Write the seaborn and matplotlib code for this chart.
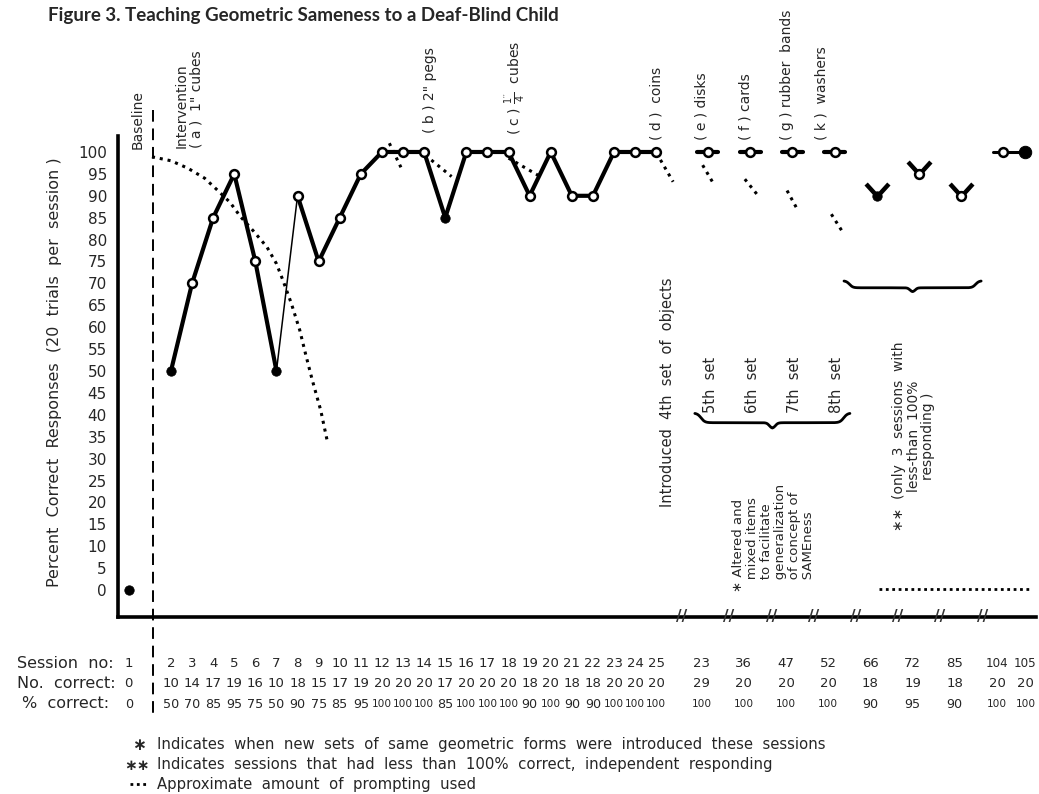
import numpy as np
import pandas as pd
import matplotlib.pyplot as plt
import seaborn as sns
from matplotlib.path import Path
from matplotlib.lines import Line2D

# Session data as printed in the table under the graph
sessions = [1, 2, 3, 4, 5, 6, 7, 8, 9, 10, 11, 12, 13, 14, 15, 16, 17, 18, 19, 20,
            21, 22, 23, 24, 25, 29, 36, 47, 52, 66, 72, 85, 104, 105]
session_labels = ['1', '2', '3', '4', '5', '6', '7', '8', '9', '10', '11', '12', '13',
                  '14', '15', '16', '17', '18', '19', '20', '21', '22', '23', '24', '25',
                  '23', '36', '47', '52', '66', '72', '85', '104', '105']
n_correct = [0, 10, 14, 17, 19, 16, 10, 18, 15, 17, 19, 20, 20, 20, 17, 20, 20, 20, 18, 20,
             18, 18, 20, 20, 20, 29, 20, 20, 20, 18, 19, 18, 20, 20]
pct_correct = [0, 50, 70, 85, 95, 75, 50, 90, 75, 85, 95, 100, 100, 100, 85, 100, 100, 100,
               90, 100, 90, 90, 100, 100, 100, 100, 100, 100, 100, 90, 95, 90, 100, 100]

filled_sessions = [1, 2, 7, 15, 66, 105]
new_set_sessions = [29, 36, 47, 52]
below_100_sessions = [66, 72, 85]
final_sessions = [104, 105]

# approximate prompting (dotted), x in session slots
prompt_x = [1.1, 2.0, 2.8, 3.6, 4.2, 4.8, 5.3, 5.9, 6.55, 7.0, 7.3, 7.7, 8.1, 8.4, 8.7, 9.1, 9.4]
prompt_y = [98.9, 98.0, 96.3, 94.0, 91.3, 88.5, 85.2, 82.0, 78.3, 74.5, 70.8, 65.5, 59.4,
            53.5, 47.9, 41.0, 34.2]
fade_x0 = [12.35, 14.05, 18.0, 25.2, 27.2, 29.2, 31.2, 33.3]
fade_y0 = [102.0, 99.3, 98.6, 98.2, 97.0, 93.8, 91.2, 85.8]
fade_x1 = [12.9, 15.3, 19.5, 25.8, 27.7, 29.8, 31.7, 33.8]
fade_y1 = [96.5, 94.4, 94.4, 93.2, 92.9, 90.2, 86.8, 82.0]

# slot positions: baseline, sessions 2-25 one slot apart, later sessions after axis breaks
pos = []
for i, s in enumerate(sessions):
    if s == 1:
        p = 0.0
    elif s <= 25:
        p = float(s)
    elif sessions[i - 1] == s - 1:
        p = pos[-1] + 1.05
    else:
        p = pos[-1] + (2.45 if sessions[i - 1] <= 25 else 2.0)
    pos.append(p)

df = pd.DataFrame({'session': sessions, 'pos': pos, 'pct': pct_correct,
                   'label': session_labels, 'n': n_correct})
df['filled'] = df['session'].isin(filled_sessions)
P = dict(zip(df['session'], df['pos']))

sns.set_style('white')
plt.rcParams['font.family'] = ['DejaVu Sans']

fig = plt.figure(figsize=(10.39, 7.94), dpi=100)
ax = fig.add_axes([118 / 1039, 1 - 617 / 794, (1036 - 118) / 1039, (617 - 30) / 794])
ax.set_xlim(-0.51, 43.0)
ax.set_ylim(-6.16, 127.85)

# main learning curve
main = df[(df['session'] >= 2) & (df['session'] <= 25)].copy()
main['seg'] = np.where(main['session'] <= 7, 0, 1)
sns.lineplot(data=main, x='pos', y='pct', units='seg', estimator=None, sort=False,
             color='black', lw=3, ax=ax, zorder=3)
ax.plot([P[7], P[8]], [pct_correct[6], pct_correct[7]], color='black', lw=1.1, zorder=3)

# new-set sessions: dot with short bar
for s in new_set_sessions:
    y = df.loc[df['session'] == s, 'pct'].iloc[0]
    ax.plot([P[s] - 0.5, P[s] + 0.5], [y, y], color='black', lw=3, zorder=3,
            solid_capstyle='round')

# sessions below 100%: V marks
vmark = Path([(-1, 1.1), (0, 0), (1, 1.1)], [Path.MOVETO, Path.LINETO, Path.LINETO])
vdf = df[df['session'].isin(below_100_sessions)]
ax.plot(vdf['pos'], vdf['pct'], ls='none', marker=vmark, ms=18, mew=3.2,
        mfc='none', mec='black', zorder=3)

# final two sessions
fdf = df[df['session'].isin(final_sessions)]
sns.lineplot(data=fdf, x='pos', y='pct', estimator=None, color='black', lw=2.2, ax=ax,
             zorder=3)
ax.plot([P[104] - 0.5, P[104]], [100, 100], color='black', lw=2.2, zorder=3)

# markers
open_pts = df[~df['filled']]
full_pts = df[df['filled'] & (df['session'] != 105)]
sns.scatterplot(data=open_pts, x='pos', y='pct', s=40, color='white', edgecolor='black',
                linewidth=1.8, ax=ax, zorder=5)
sns.scatterplot(data=full_pts, x='pos', y='pct', s=46, color='black', edgecolor='black',
                ax=ax, zorder=5)
sns.scatterplot(data=df[df['session'] == 105], x='pos', y='pct', s=80, color='black',
                edgecolor='black', ax=ax, zorder=5)

# prompting
ax.plot(prompt_x, prompt_y, color='black', ls=(0, (1, 1.6)), lw=2.2, zorder=2)
for x0, y0, x1, y1 in zip(fade_x0, fade_y0, fade_x1, fade_y1):
    ax.plot([x0, x1], [y0, y1], color='black', ls=(0, (1, 1.6)), lw=2.2, zorder=2)
ax.plot([P[66] + 0.1, 42.8], [0.3, 0.3], color='black', ls=(0, (1, 1.3)), lw=2, zorder=2)

# phase line
ax.plot([1.13, 1.13], [109.6, -28.5], color='black', ls=(0, (6, 3.5)), lw=1.4,
        clip_on=False)

# axes
sns.despine(ax=ax)
ax.spines['left'].set_bounds(-6.16, 103.7)
for side in ['left', 'bottom']:
    ax.spines[side].set_linewidth(2.6)
    ax.spines[side].set_color('black')
ax.set_xticks([])
ax.set_yticks(range(0, 101, 5))
ax.tick_params(axis='y', length=0, pad=8, labelsize=11)
ax.set_xlabel('')
ax.set_ylabel('')

# axis breaks
late = [p for s, p in zip(sessions, pos) if s > 24]
for a, b in zip(late[:-2], late[1:-1]):
    ax.text((a + b) / 2, -6.16, '//', ha='center', va='center', fontsize=11,
            fontweight='bold', color='#333333')

# annotations
rot = dict(rotation=90, ha='center', va='bottom', fontsize=10)
ax.text(0.4, 100.6, 'Baseline', **rot)
ax.text(2.85, 100.9, 'Intervention\n( a )  1" cubes', multialignment='left',
        linespacing=1.1, **rot)
ax.text(14.3, 104.3, '( b ) 2" pegs', **rot)
ax.text(18.3, 103.8, r'( c ) $\mathregular{\frac{1^{\prime\prime}}{4}}$  cubes', **rot)
ax.text(25.03, 102.8, '( d )  coins', **rot)
ax.text(P[29] - 0.3, 102.8, '( e ) disks', **rot)
ax.text(P[36] - 0.2, 102.8, '( f ) cards', **rot)
ax.text(P[47] - 0.25, 102.8, '( g ) rubber  bands', **rot)
ax.text(P[52] - 0.6, 102.8, '( k )  washers', **rot)

ax.text(25.55, 19.0, 'Introduced  4th  set  of  objects', **dict(rot, fontsize=10.5))
for s, lab in zip(new_set_sessions, ['5th  set', '6th  set', '7th  set', '8th  set']):
    ax.text(P[s] + 0.1, 40.4, lab, **dict(rot, fontsize=10.5))

ax.text(30.55, -0.5, '\u2217 Altered and\n   mixed items\n   to facilitate\n   generalization\n'
        '   of concept of\n   SAMEness', rotation=90, ha='center', va='bottom',
        fontsize=9.5, linespacing=1.1, multialignment='left')
ax.text(37.2, 35.2, '\u2217\u2217  (only  3  sessions  with\nless-than  100%\nresponding )',
        rotation=90, ha='center', va='center', fontsize=10, linespacing=1.05,
        multialignment='center')


def brace(x0, x1, y, h):
    u = np.linspace(0, 1, 200)
    half = h * (1 / (1 + np.exp(-40 * (u - 0.08))) + 0.6 / (1 + np.exp(-60 * (u - 0.96))))
    xs = np.concatenate([x0 + u * (x1 - x0) / 2, x1 - u[::-1] * (x1 - x0) / 2])
    ys = np.concatenate([y - half, y - half[::-1]])
    ax.plot(xs, ys, color='black', lw=2)


brace(26.83, 34.18, 40.4, 2.2)
brace(33.9, 40.4, 70.6, 1.6)

# table under the graph
row_y = [-16.67, -21.23, -26.03]
fig.text(17 / 1039, 1 - 663 / 794, 'Session  no:', fontsize=11.5, va='center')
fig.text(17 / 1039, 1 - 683 / 794, 'No.  correct:', fontsize=11.5, va='center')
fig.text(22 / 1039, 1 - 704 / 794, '%  correct:', fontsize=11.5, va='center')
for s, p, lab, n, pc in zip(sessions, pos, session_labels, n_correct, pct_correct):
    tx = p - 0.3 if 25 < s < 105 else p
    ax.text(tx, row_y[0], lab, ha='center', va='center',
            fontsize=8.6 if s > 100 else 9.5)
    ax.text(tx, row_y[1], str(n), ha='center', va='center', fontsize=9.5)
    ax.text(tx, row_y[2], str(pc), ha='center', va='center',
            fontsize=7.6 if pc == 100 else 9.2)

# titles and notes
fig.text(48 / 1039, 1 - 16 / 794, 'Figure 3. Teaching Geometric Sameness to a Deaf-Blind Child',
         fontsize=13.5, fontweight='bold', family='Lato', va='center')
fig.text(55 / 1039, 1 - 372 / 794, 'Percent  Correct  Responses  (20  trials  per  session )',
         rotation=90, ha='center', va='center', fontsize=11.5)
fig.text(139 / 1039, 1 - 745 / 794, '\u2217', fontsize=12, fontweight='bold', va='center',
         ha='center')
fig.text(157 / 1039, 1 - 745 / 794,
         'Indicates  when  new  sets  of  same  geometric  forms  were  introduced  these  sessions',
         fontsize=10.7, va='center')
fig.text(137 / 1039, 1 - 765 / 794, '\u2217\u2217', fontsize=11, fontweight='bold',
         va='center', ha='center')
fig.text(157 / 1039, 1 - 765 / 794,
         'Indicates  sessions  that  had  less  than  100%  correct,  independent  responding',
         fontsize=10.7, va='center')
fig.add_artist(Line2D([130 / 1039, 149 / 1039], [1 - 784 / 794, 1 - 784 / 794],
                      color='black', ls=(0, (1, 1.3)), lw=2))
fig.text(157 / 1039, 1 - 784 / 794, 'Approximate  amount  of  prompting  used', fontsize=10.7,
         va='center')

fig.savefig('out.png', dpi=100)
